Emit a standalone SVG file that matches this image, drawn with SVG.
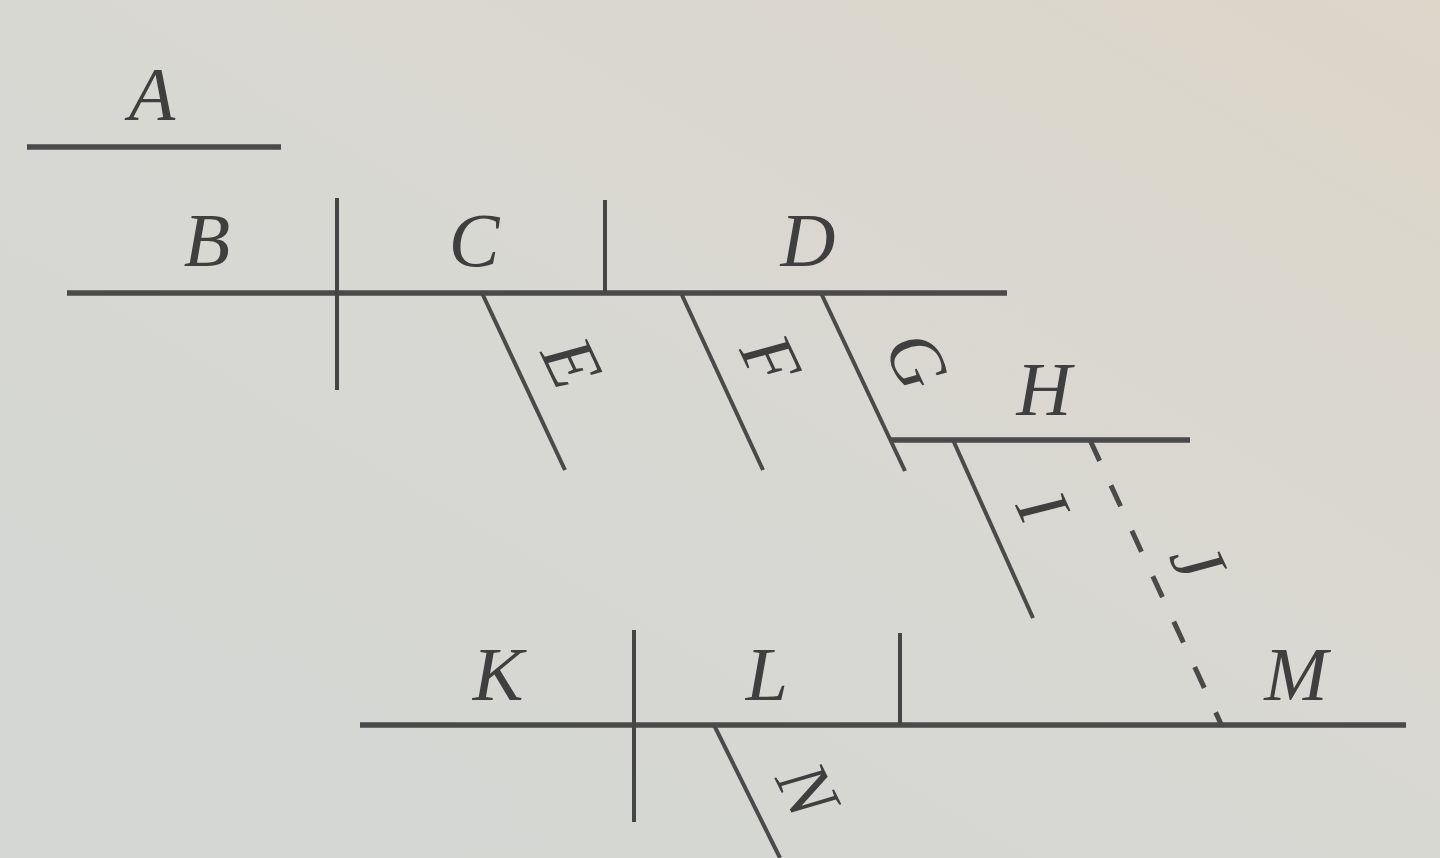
<svg xmlns="http://www.w3.org/2000/svg" width="1440" height="858" viewBox="0 0 1440 858">
  <defs>
    <linearGradient id="bg" x1="0" y1="1" x2="1" y2="0">
      <stop offset="0" stop-color="#d3d6d3"/>
      <stop offset="0.5" stop-color="#d8d8d3"/>
      <stop offset="1" stop-color="#ddd6c9"/>
    </linearGradient>
    <style>
      .h { stroke: #4a4a4a; stroke-width: 5.5; fill: none; stroke-linecap: butt; }
      .v { stroke: #454545; stroke-width: 4; fill: none; stroke-linecap: butt; }
      .d { stroke: #4a4a4a; stroke-width: 4; fill: none; stroke-linecap: butt; }
      .dash { stroke: #4a4a4a; stroke-width: 5; fill: none; stroke-dasharray: 23 27; }
      .lab { font-family: "Liberation Serif", "DejaVu Serif", serif; font-size: 76px; font-style: italic; fill: #3f3f3f; text-anchor: middle; }
      .rot { font-family: "Liberation Serif", "DejaVu Serif", serif; font-size: 74px; font-style: italic; fill: #3f3f3f; text-anchor: middle; }
    </style>
  </defs>
  <rect width="1440" height="858" fill="url(#bg)"/>

  <g id="connectors">
    <line class="h" x1="27" y1="147" x2="281" y2="147"/>
    <line class="h" x1="67" y1="293" x2="1007" y2="293"/>
    <line class="v" x1="337" y1="198" x2="337" y2="390"/>
    <line class="v" x1="605" y1="200" x2="605" y2="293"/>
    <line class="d" x1="482" y1="293" x2="565" y2="470"/>
    <line class="d" x1="681" y1="293" x2="763" y2="470"/>
    <line class="d" x1="821" y1="293" x2="905" y2="471"/>
    <line class="h" x1="891" y1="440" x2="1190" y2="440"/>
    <line class="d" x1="953" y1="440" x2="1033" y2="618"/>
    <line class="dash" x1="1090" y1="440" x2="1221" y2="724"/>
    <line class="h" x1="360" y1="725" x2="1406" y2="725"/>
    <line class="v" x1="634" y1="630" x2="634" y2="822"/>
    <line class="v" x1="900" y1="633" x2="900" y2="725"/>
    <line class="d" x1="714" y1="725" x2="780" y2="858"/>
  </g>

  <g id="node-A"><text class="lab" x="152" y="120">A</text></g>
  <g id="node-B"><text class="lab" x="207" y="266">B</text></g>
  <g id="node-C"><text class="lab" x="474" y="266">C</text></g>
  <g id="node-D"><text class="lab" x="808" y="266">D</text></g>
  <g id="node-E"><text class="rot" transform="translate(571,363) rotate(64.7)" x="0" y="24">E</text></g>
  <g id="node-F"><text class="rot" transform="translate(770,360) rotate(64.7)" x="0" y="24">F</text></g>
  <g id="node-G"><text class="rot" transform="translate(916,361) rotate(64.7)" x="0" y="24">G</text></g>
  <g id="node-H"><text class="lab" x="1044" y="415">H</text></g>
  <g id="node-I"><text class="rot" transform="translate(1042,507) rotate(65.8)" x="0" y="24">I</text></g>
  <g id="node-J"><text class="rot" transform="translate(1197,561) rotate(65.2)" x="0" y="24">J</text></g>
  <g id="node-K"><text class="lab" x="498" y="700">K</text></g>
  <g id="node-L"><text class="lab" x="767" y="700">L</text></g>
  <g id="node-M"><text class="lab" x="1296" y="700">M</text></g>
  <g id="node-N"><text class="rot" transform="translate(807,790) rotate(63.6)" x="0" y="24">N</text></g>
</svg>
